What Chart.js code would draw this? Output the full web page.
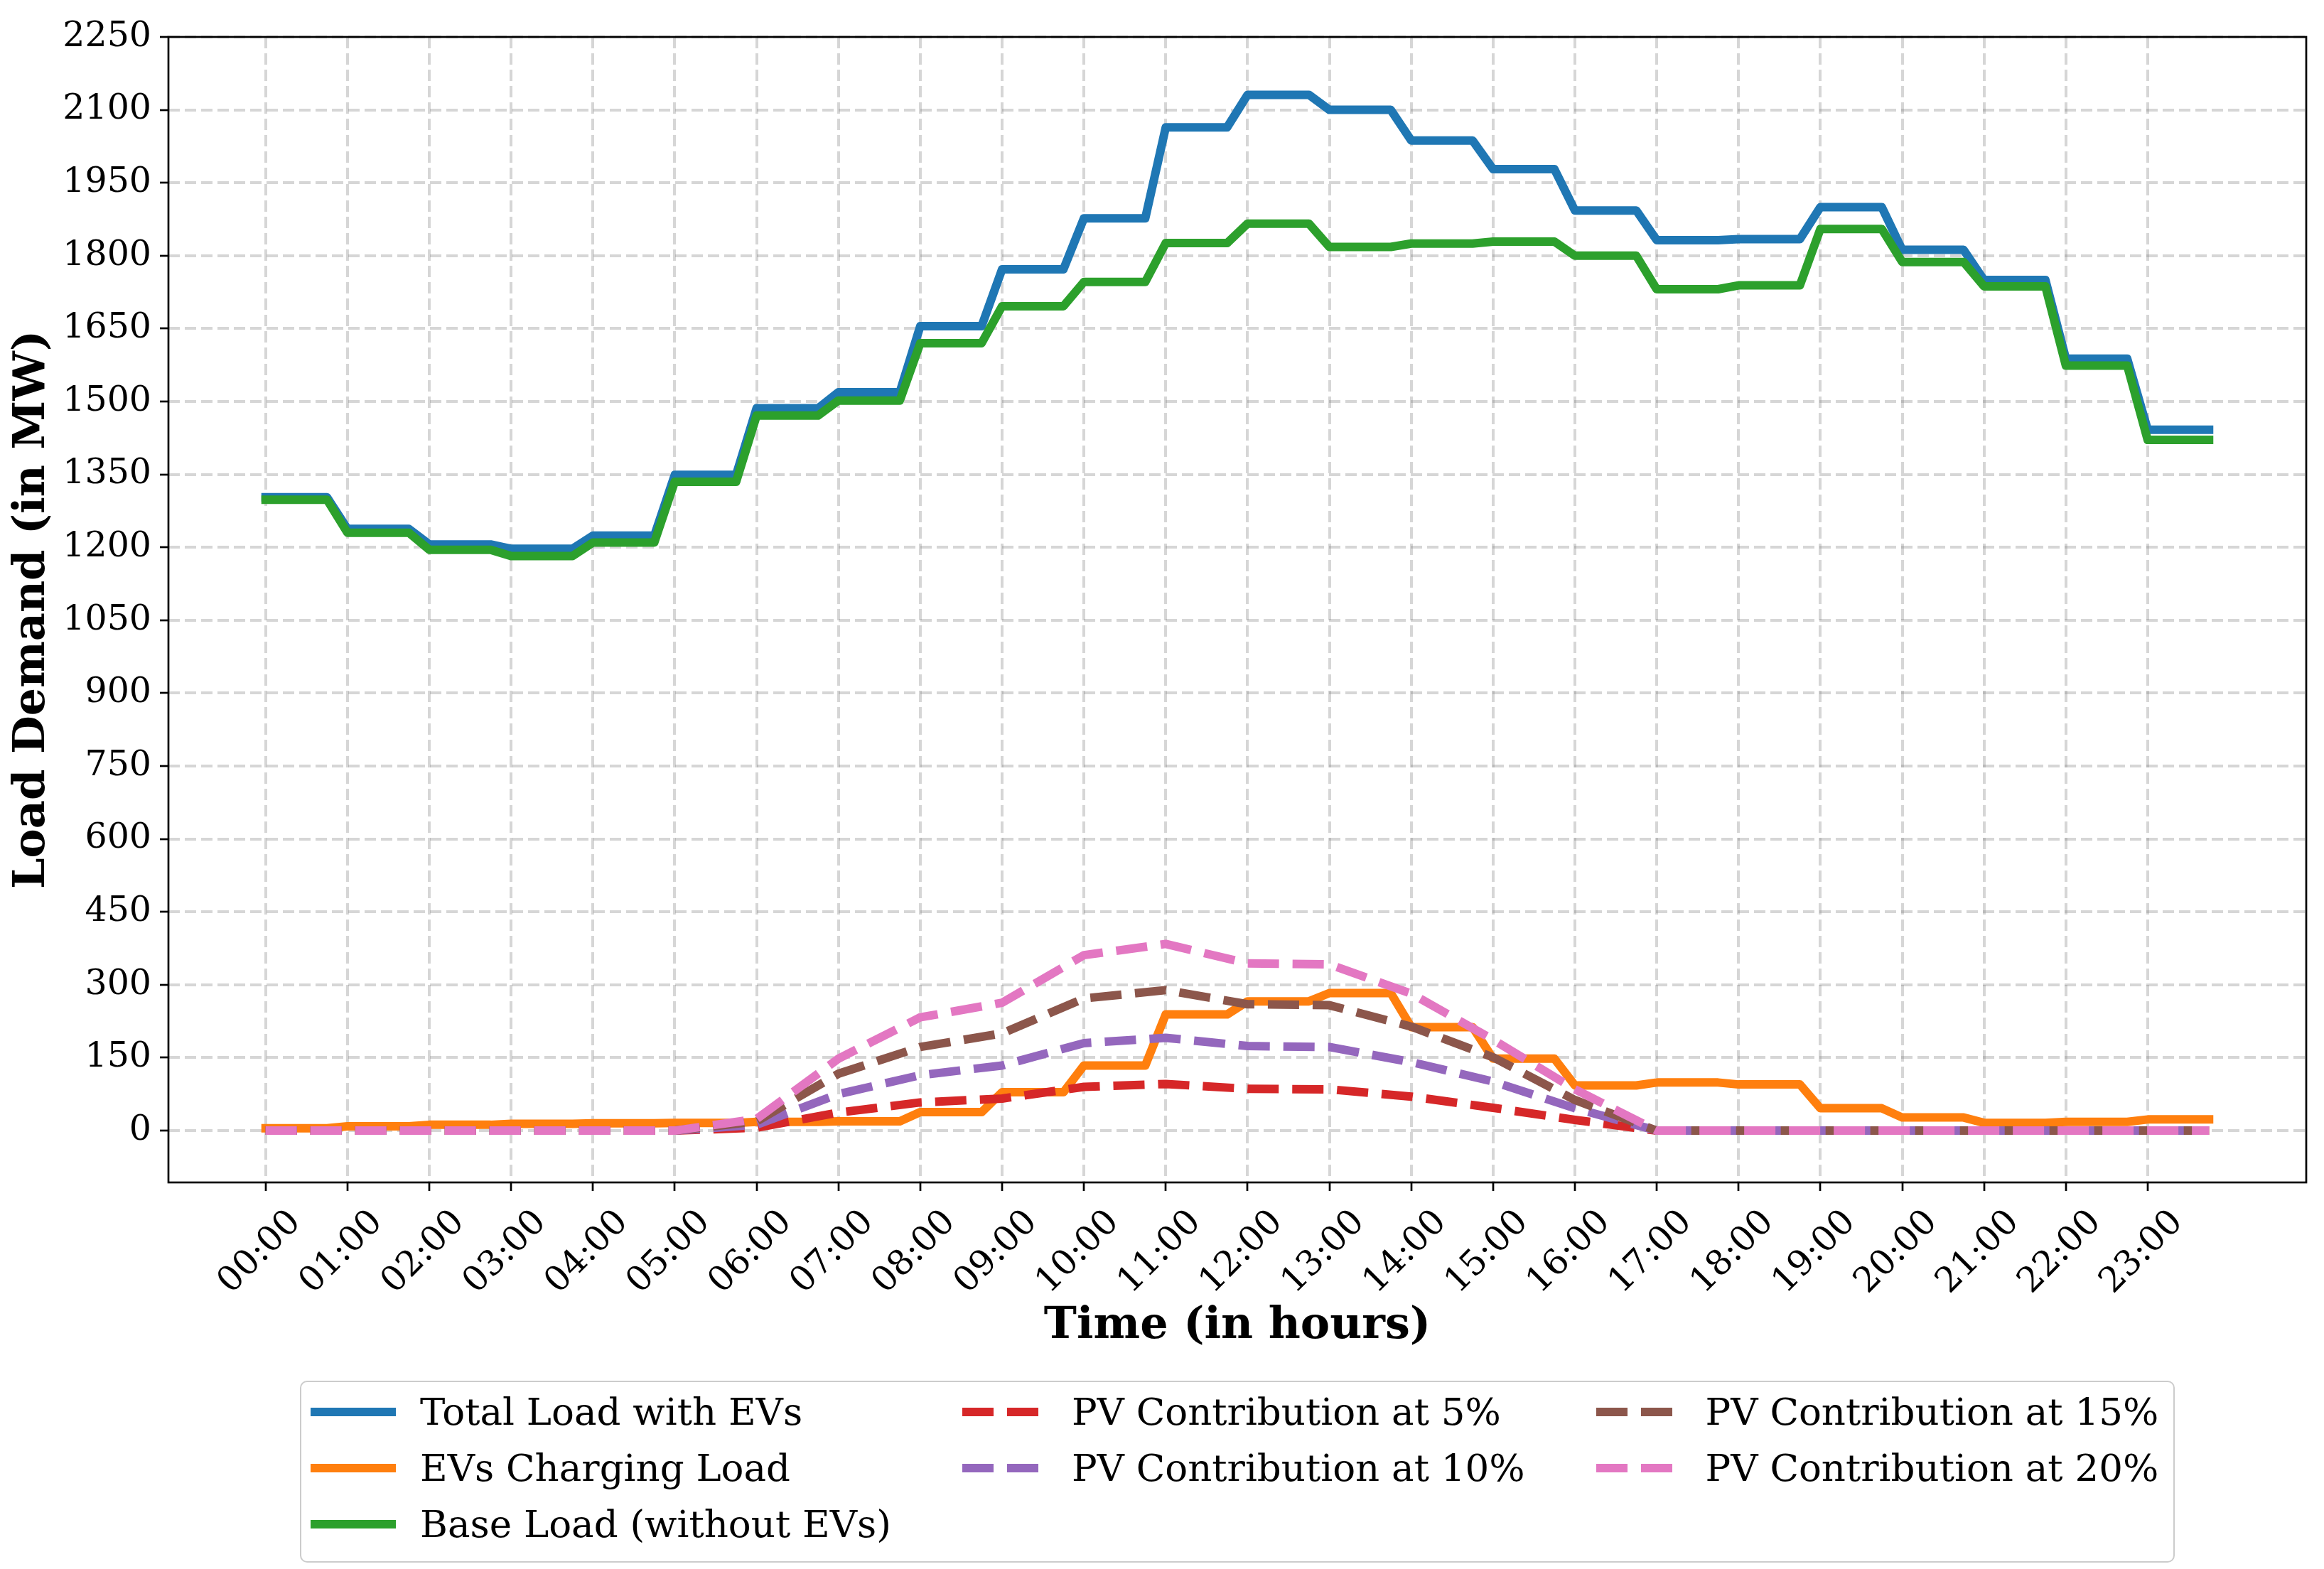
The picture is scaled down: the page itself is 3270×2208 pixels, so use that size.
<!DOCTYPE html>
<html>
<head>
<meta charset="utf-8">
<script src="https://cdn.jsdelivr.net/npm/chart.js@4.4.1/dist/chart.umd.min.js"></script>
<style>
  html, body { margin: 0; padding: 0; background: #ffffff; }
  #wrap { position: relative; width: 3270px; height: 2208px; overflow: hidden; }
  #c { position: absolute; left: 0; top: 0; }
  #legend {
    position: absolute; left: 422px; top: 1943px; width: 2638px; height: 256px;
    box-sizing: border-box; border: 2.5px solid #cccccc; border-radius: 10px; background: #ffffff;
    font-family: 'DejaVu Serif', serif; font-size: 53px; color: #000000;
    display: grid; grid-template-rows: repeat(3, 79px); grid-auto-columns: max-content;
    column-gap: 100px; padding: 2px 0 0 13px; align-content: start;
  }
  .item { display: flex; align-items: center; white-space: nowrap; }
  .item svg { flex: none; margin-right: 34px; }
</style>
</head>
<body>
<div id="wrap">
  <canvas id="c" width="3270" height="2208"></canvas>
  <div id="legend"></div>
</div>
<script>
// ---------------- data ----------------
const hourLabels = ["00:00","01:00","02:00","03:00","04:00","05:00","06:00","07:00","08:00","09:00","10:00","11:00",
                    "12:00","13:00","14:00","15:00","16:00","17:00","18:00","19:00","20:00","21:00","22:00","23:00"];
const totalLoad = [1303,1238,1206,1197,1224,1349,1486,1519,1655,1772,1877,2064,2131,2100,2037,1978,1893,1832,1834,1900,1812,1750,1588,1442];
const evLoad    = [5,9,12,14,15,16,18,19,38,79,134,239,266,283,213,148,93,99,95,46,27,16,18,23];
const baseLoad  = [1298,1230,1195,1182,1210,1335,1471,1502,1620,1696,1746,1826,1866,1818,1825,1829,1800,1731,1739,1855,1787,1737,1574,1421];
const pv5  = [0,0,0,0,0,0,6,37,58,66,90,96,86,85,70,47,22,0,0,0,0,0,0,0];
const pv10 = [0,0,0,0,0,0,12,75,114,134,180,191,174,172,141,101,46,0,0,0,0,0,0,0];
const pv15 = [0,0,0,0,0,0,19,117,172,200,272,289,260,258,214,151,63,0,0,0,0,0,0,0];
const pv20 = [0,0,0,0,0,0,24,148,233,263,361,384,344,342,282,187,85,0,0,0,0,0,0,0];
const yTickValues = [0,150,300,450,600,750,900,1050,1200,1350,1500,1650,1800,1950,2100,2250];
const seriesLabels = ["Total Load with EVs","EVs Charging Load","Base Load (without EVs)",
                      "PV Contribution at 5%","PV Contribution at 10%","PV Contribution at 15%","PV Contribution at 20%"];

// ---------------- axis limits & styles ----------------
const xMin = -1.1875, xMax = 24.9375;
const yMin = -106.6, yMax = 2250;
const lastQuarter = 0.75; // each hourly value is held until hh:45
const LW = 12;
const DASH = [44, 19];
const gridColor = 'rgba(128,128,128,0.32)';

Chart.defaults.font.family = "'DejaVu Serif', serif";
Chart.defaults.color = '#000000';

const stepPoints = vals => vals.flatMap((v, i) => [{x: i, y: v}, {x: i + lastQuarter, y: v}]);
const hourlyPoints = vals => vals.map((v, i) => ({x: i, y: v}))
  .concat([{x: vals.length - 1 + lastQuarter, y: vals[vals.length - 1]}]);

const mk = (label, data, color, dashed, order) => ({
  label, data, borderColor: color, backgroundColor: color,
  borderWidth: LW, borderDash: dashed ? DASH : [],
  borderCapStyle: dashed ? 'butt' : 'square', borderJoinStyle: 'round',
  pointRadius: 0, tension: 0, fill: false, order
});

const datasets = [
  mk(seriesLabels[0], stepPoints(totalLoad), '#1f77b4', false, 7),
  mk(seriesLabels[1], stepPoints(evLoad),    '#ff7f0e', false, 6),
  mk(seriesLabels[2], stepPoints(baseLoad),  '#2ca02c', false, 5),
  mk(seriesLabels[3], hourlyPoints(pv5),  '#d62728', true, 4),
  mk(seriesLabels[4], hourlyPoints(pv10), '#9467bd', true, 3),
  mk(seriesLabels[5], hourlyPoints(pv15), '#8c564b', true, 2),
  mk(seriesLabels[6], hourlyPoints(pv20), '#e377c2', true, 1)
];

const framePlugin = {
  id: 'frame',
  afterDatasetsDraw(chart) {
    const {ctx, chartArea: {left, top, right, bottom}} = chart;
    ctx.save();
    ctx.strokeStyle = '#000000';
    ctx.lineWidth = 2.7;
    ctx.strokeRect(left, top, right - left, bottom - top);
    ctx.restore();
  }
};

const gridOpts = { color: gridColor, lineWidth: 4, tickLength: 12, tickColor: '#000000', tickWidth: 2.7, tickBorderDash: [] };

const chart = new Chart(document.getElementById('c'), {
  type: 'line',
  data: { datasets },
  options: {
    responsive: false, maintainAspectRatio: false, animation: false, devicePixelRatio: 1,
    layout: { padding: { left: 0, top: 52, right: 25, bottom: 0 } },
    plugins: { legend: { display: false }, tooltip: { enabled: false } },
    scales: {
      x: {
        type: 'linear', min: xMin, max: xMax, bounds: 'data',
        afterBuildTicks: s => { s.ticks = hourLabels.map((_, i) => ({ value: i })); },
        afterFit: s => { s.height = 544; },
        ticks: { autoSkip: false, minRotation: 45, maxRotation: 45, padding: 16, labelOffset: 42,
                 color: '#000000', font: { size: 49 }, callback: (v, i) => hourLabels[i] },
        grid: gridOpts,
        border: { display: false, dash: [16, 7] },
        title: { display: true, text: 'Time (in hours)', color: '#000000',
                 font: { size: 62, weight: 'bold' }, padding: { top: 0, bottom: 304 } }
      },
      y: {
        type: 'linear', min: yMin, max: yMax, bounds: 'data',
        afterBuildTicks: s => { s.ticks = yTickValues.map(v => ({ value: v })); },
        afterFit: s => { s.width = 237; },
        ticks: { padding: 12, color: '#000000', font: { size: 49 }, callback: v => String(v) },
        grid: gridOpts,
        border: { display: false, dash: [16, 7] },
        title: { display: true, text: 'Load Demand (in MW)', color: '#000000',
                 font: { size: 62, weight: 'bold' }, padding: { top: 9, bottom: 0 } }
      }
    }
  },
  plugins: [framePlugin]
});

// ---------------- legend (matplotlib-like, ncol = 3, column-major) ----------------
(function buildLegend() {
  const box = document.getElementById('legend');
  const ds = chart.data.datasets;
  const ncol = 3;
  const base = Math.floor(ds.length / ncol), extra = ds.length % ncol;
  let idx = 0;
  for (let c = 0; c < ncol; c++) {
    const n = base + (c < extra ? 1 : 0);
    for (let r = 0; r < n; r++, idx++) {
      const d = ds[idx];
      const item = document.createElement('div');
      item.className = 'item';
      item.style.gridColumn = String(c + 1);
      item.style.gridRow = String(r + 1);
      const dash = d.borderDash.length ? ` stroke-dasharray="${d.borderDash.join(' ')}"` : '';
      item.innerHTML = `<svg width="120" height="14" viewBox="0 0 120 14"><line x1="0" y1="7" x2="120" y2="7" stroke="${d.borderColor}" stroke-width="${LW}"${dash}/></svg><span>${d.label}</span>`;
      box.appendChild(item);
    }
  }
})();
</script>
</body>
</html>
